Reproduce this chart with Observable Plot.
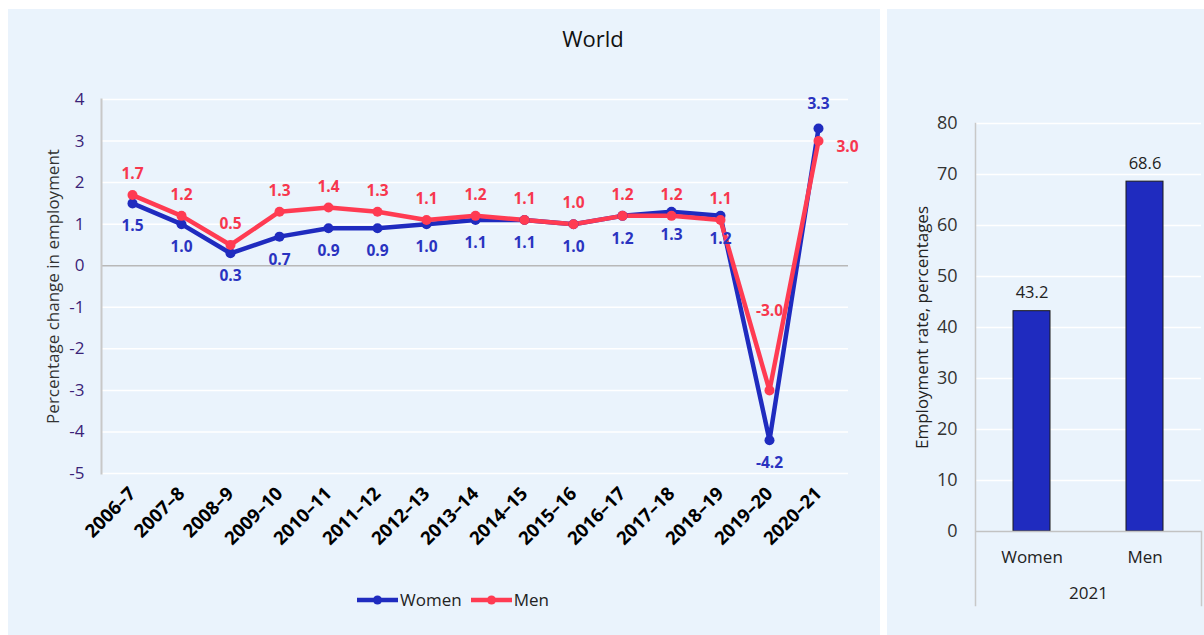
<!DOCTYPE html>
<html>
<head>
<meta charset="utf-8">
<script src="https://cdn.jsdelivr.net/npm/d3@7"></script>
<script src="https://cdn.jsdelivr.net/npm/@observablehq/plot@0.6"></script>
<style>
  body { margin: 0; background: #fff; font-family: "Open Sans", sans-serif; }
  #page { position: relative; width: 1204px; height: 635px; overflow: hidden; background: #fff; }
  .panel { position: absolute; background: #eaf3fc; }
  #title { position: absolute; top: 14px; left: 585px; transform: translateX(-50%);
           font-size: 22px; line-height: 30px; color: #111; white-space: nowrap; }
  #lineChart { position: absolute; left: 0; top: 62px; }
  #barChart { position: absolute; left: 0; top: 0; }
  #legend { position: absolute; top: 580px; left: 349px; display: flex; align-items: center;
            font-size: 17px; color: #222; line-height: 22px; }
  .item { display: flex; align-items: center; margin-right: 9px; }
  .item svg { margin-right: 2px; }
</style>
</head>
<body>
<div id="page">
  <div class="panel" style="left:8px;top:9px;width:872px;height:626px">
    <div id="title">World</div>
    <div id="lineChart"></div>
    <div id="legend"></div>
  </div>
  <div class="panel" style="left:887px;top:9px;width:317px;height:626px">
    <div id="barChart"></div>
  </div>
</div>
<script>
// Year-on-year change in employment, world, by sex (per cent)
const periods = ["2006–7", "2007–8", "2008–9", "2009–10", "2010–11", "2011–12", "2012–13",
  "2013–14", "2014–15", "2015–16", "2016–17", "2017–18", "2018–19", "2019–20", "2020–21"];
const women = [1.5, 1.0, 0.3, 0.7, 0.9, 0.9, 1.0, 1.1, 1.1, 1.0, 1.2, 1.3, 1.2, -4.2, 3.3];
const men   = [1.7, 1.2, 0.5, 1.3, 1.4, 1.3, 1.1, 1.2, 1.1, 1.0, 1.2, 1.2, 1.1, -3.0, 3.0];
const changeTicks = [-5, -4, -3, -2, -1, 0, 1, 2, 3, 4];

// Employment rate in 2021 (per cent)
const rateGroups = ["Women", "Men"];
const rates2021 = [43.2, 68.6];
const rateTicks = [0, 10, 20, 30, 40, 50, 60, 70, 80];

const seriesColor = {Women: "#1f2bbf", Men: "#ff3b52"};
const labelColor = {Women: "#2a33c0", Men: "#f7374e"};
const font = "'Open Sans', sans-serif";

const rows = periods.flatMap((p, i) => [
  {period: p, sex: "Women", value: women[i]},
  {period: p, sex: "Men", value: men[i]}
]);

// Value labels: women below the point, men above, with a few hand-placed exceptions
const defaultOffset = {Women: [0, 23], Men: [0, -21]};
const offsetOverrides = {
  "Women|2020–21": [0, -25],
  "Men|2019–20": [0, -79],
  "Men|2020–21": [29, 6]
};
const labelRows = rows.map(d => {
  const [dx, dy] = offsetOverrides[d.sex + "|" + d.period] || defaultOffset[d.sex];
  return {...d, dx, dy};
});
const offsetGroups = d3.groups(labelRows, d => d.dx + "," + d.dy);
const labelMarks = offsetGroups.map(([, group]) =>
  Plot.text(group, {
    x: "period", y: "value", text: d => d.value.toFixed(1),
    fill: d => labelColor[d.sex], fontWeight: "bold", fontSize: 15.5,
    dx: group[0].dx, dy: group[0].dy
  })
);

const lineChart = Plot.plot({
  width: 872, height: 484,
  marginLeft: 93, marginRight: 32, marginTop: 28, marginBottom: 82,
  style: {background: "transparent", fontFamily: font, overflow: "visible"},
  x: {type: "point", domain: periods, padding: 0.5},
  y: {domain: [-5, 4]},
  color: {type: "identity"},
  marks: [
    Plot.ruleY(changeTicks.filter(t => t !== 0), {stroke: "#ffffff", strokeWidth: 1.5}),
    Plot.ruleY([0], {stroke: "#b8b8b8", strokeWidth: 1.5}),
    Plot.frame({anchor: "left", stroke: "#c8c8c8", strokeWidth: 2}),
    Plot.axisX({tickSize: 0, tickPadding: 17, tickRotate: -45, fontWeight: "bold",
                fontSize: 18.5, fill: "#000", label: null}),
    Plot.axisY({ticks: changeTicks, tickSize: 0, tickPadding: 17, fontSize: 17,
                fill: "#3a2277", tickFormat: d => String(d), label: null}),
    Plot.text(["Percentage change in employment"], {
      frameAnchor: "left", textAnchor: "middle", rotate: -90, dx: -48, fontSize: 17, fill: "#333"
    }),
    Plot.line(rows, {x: "period", y: "value", z: "sex", stroke: d => seriesColor[d.sex],
                     strokeWidth: 4.5, strokeLinejoin: "round"}),
    Plot.dot(rows, {x: "period", y: "value", fill: d => seriesColor[d.sex], r: 5}),
    ...labelMarks
  ]
});
document.getElementById("lineChart").append(lineChart);

// Legend: line-with-marker swatches
const legend = document.getElementById("legend");
for (const sex of ["Women", "Men"]) {
  const item = document.createElement("div");
  item.className = "item";
  item.innerHTML =
    `<svg width="41" height="10"><line x1="0" x2="41" y1="5" y2="5" stroke="${seriesColor[sex]}" stroke-width="4.5"/>` +
    `<circle cx="20.5" cy="5" r="4.5" fill="${seriesColor[sex]}"/></svg><span>${sex}</span>`;
  legend.append(item);
}

const bars = rateGroups.map((g, i) => ({group: g, rate: rates2021[i]}));
const barPlotHeight = 626 - 114 - 104;
const barChart = Plot.plot({
  width: 317, height: 626,
  marginLeft: 88, marginRight: 3, marginTop: 114, marginBottom: 104,
  style: {background: "transparent", fontFamily: font, overflow: "visible"},
  x: {domain: rateGroups, paddingInner: 0.673, paddingOuter: 0.336},
  y: {domain: [0, 80]},
  marks: [
    Plot.ruleY(rateTicks.filter(t => t > 0), {stroke: "#ffffff", strokeWidth: 1.5}),
    Plot.barY(bars, {x: "group", y: "rate", fill: "#1f2bbf", stroke: "#1a1a1a", strokeWidth: 1}),
    Plot.ruleY([0], {stroke: "#c2c2c2", strokeWidth: 1.5}),
    Plot.frame({anchor: "left", insetBottom: -74, stroke: "#c8c8c8", strokeWidth: 1.5}),
    Plot.frame({anchor: "right", insetTop: barPlotHeight, insetBottom: -74, stroke: "#c8c8c8", strokeWidth: 1.5}),
    Plot.axisX({tickSize: 0, tickPadding: 19, fontSize: 17, fill: "#222", label: null}),
    Plot.axisY({ticks: rateTicks, tickSize: 0, tickPadding: 18, fontSize: 18, fill: "#333", label: null}),
    Plot.text(["Employment rate, percentages"], {
      frameAnchor: "left", textAnchor: "middle", rotate: -90, dx: -53, fontSize: 17, fill: "#222"
    }),
    Plot.text(["2021"], {frameAnchor: "bottom", dy: 67, fontSize: 17, fill: "#222"}),
    Plot.text(bars, {x: "group", y: "rate", text: d => d.rate.toFixed(1), dy: -18,
                     fontSize: 16.5, fill: "#222"})
  ]
});
document.getElementById("barChart").append(barChart);
</script>
</body>
</html>
